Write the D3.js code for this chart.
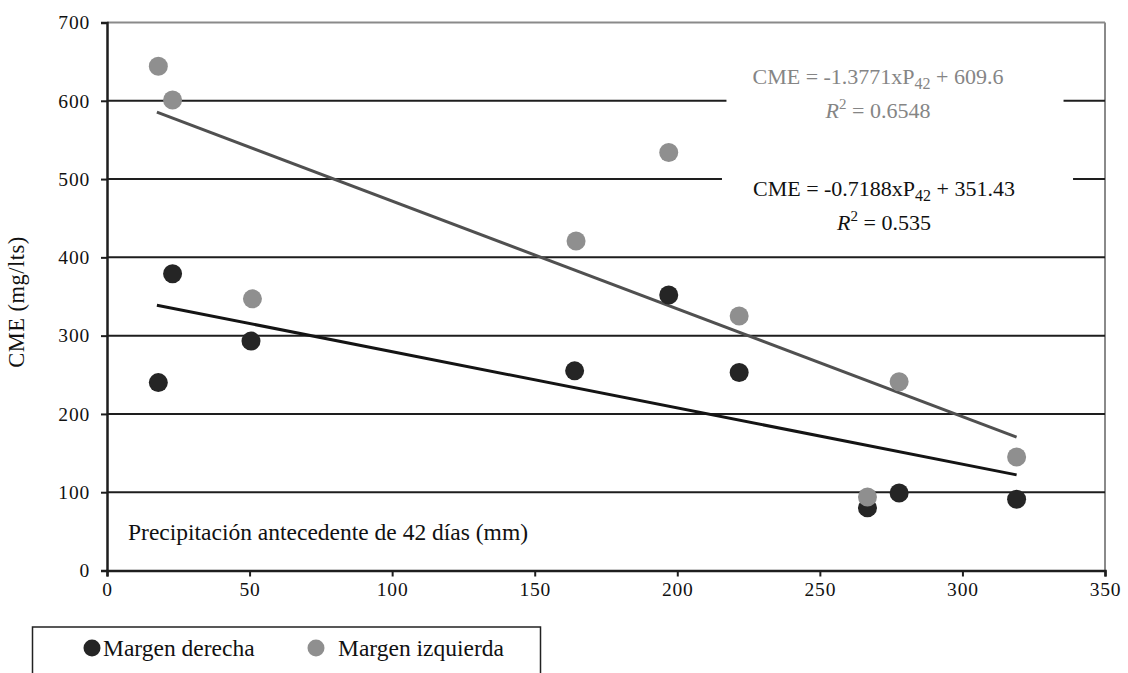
<!DOCTYPE html>
<html><head><meta charset="utf-8">
<script src="https://cdn.jsdelivr.net/npm/d3@7"></script>
<style>
html,body{margin:0;padding:0;background:#fff;}
svg{display:block;font-family:"Liberation Serif","Times New Roman",serif;}
</style></head>
<body>
<svg id="c" width="1128" height="673"></svg>
<script>
// ---- data ----
const seriesNames = ["Margen derecha", "Margen izquierda"];
const derechaX = [18, 23, 50.5, 164, 197, 221.7, 266.7, 277.8, 319];
const derechaY = [240, 379, 293, 255, 352, 253, 80, 99, 91];
const izquierdaX = [18, 23, 51, 164.5, 197, 221.7, 266.7, 277.8, 319];
const izquierdaY = [644, 601, 347, 421, 534, 325, 94, 241, 145];
const trendSlope = [-0.7188, -1.3771];
const trendIntercept = [351.43, 609.6];
const trendR2 = ["0.535", "0.6548"];
const trendRange = [17.5, 319];
const xTicks = [0, 50, 100, 150, 200, 250, 300, 350];
const yTicks = [0, 100, 200, 300, 400, 500, 600, 700];

const colors = ["#252525", "#8f8f8f"];
const lineColors = ["#141414", "#505050"];

const svg = d3.select("#c");
const x = d3.scaleLinear().domain([0, 350]).range([107, 1105]);
const y = d3.scaleLinear().domain([0, 700]).range([570.5, 22.5]);

// plot border (top/right)
svg.append("line").attr("x1", x(0)).attr("x2", x(350)).attr("y1", y(700)).attr("y2", y(700))
  .attr("stroke", "#8a8a8a").attr("stroke-width", 2);
svg.append("line").attr("x1", x(350)).attr("x2", x(350)).attr("y1", y(700)).attr("y2", y(0))
  .attr("stroke", "#8a8a8a").attr("stroke-width", 2);

// gridlines
svg.append("g").selectAll("line").data(yTicks.filter(d => d > 0 && d < 700)).join("line")
  .attr("x1", x(0)).attr("x2", x(350)).attr("y1", d => y(d)).attr("y2", d => y(d))
  .attr("stroke", "#1e1e1e").attr("stroke-width", 2);

// axes
const yAxis = svg.append("g").attr("transform", `translate(${x(0)},0)`)
  .call(d3.axisLeft(y).tickValues(yTicks).tickSize(6).tickPadding(11));
const xAxis = svg.append("g").attr("transform", `translate(0,${y(0)})`)
  .call(d3.axisBottom(x).tickValues(xTicks).tickSize(6).tickPadding(6));
[yAxis, xAxis].forEach(a => {
  a.select(".domain").attr("stroke", "#1e1e1e").attr("stroke-width", 2.5);
  a.selectAll(".tick line").attr("stroke", "#1e1e1e").attr("stroke-width", 2);
  a.selectAll(".tick text").attr("font-family", "Liberation Serif, serif").attr("font-size", 19.5)
    .attr("letter-spacing", 0.8).attr("fill", "#111");
});
xAxis.selectAll(".tick text").attr("dy", "0.71em");

// annotations (with white background)
function eqText(g, i, cx, y1, y2, col) {
  const t1 = g.append("text").attr("x", cx).attr("y", y1).attr("text-anchor", "middle")
    .attr("font-size", 22).attr("fill", col);
  t1.append("tspan").text(`CME = ${trendSlope[i]}xP`);
  t1.append("tspan").attr("font-size", 16).attr("dy", 5).text("42");
  t1.append("tspan").attr("dy", -5).text(` + ${trendIntercept[i]}`);
  const t2 = g.append("text").attr("x", cx).attr("y", y2).attr("text-anchor", "middle")
    .attr("font-size", 22).attr("fill", col);
  t2.append("tspan").attr("font-style", "italic").text("R");
  t2.append("tspan").attr("font-size", 15).attr("dy", -9).text("2");
  t2.append("tspan").attr("dy", 9).text(` = ${trendR2[i]}`);
  return [t1, t2];
}
const annG = svg.append("g");
const bgG = annG.append("g");
const a1 = eqText(annG, 1, 878, 84, 118, "#858585");
const a0 = eqText(annG, 0, 884, 196, 230, "#111");
[[a1, 26, 60], [a0, 31, 58]].forEach(([ts, pl, pr]) => {
  const b1 = ts[0].node().getBBox(), b2 = ts[1].node().getBBox();
  const x0 = Math.min(b1.x, b2.x) - pl, x1 = Math.max(b1.x + b1.width, b2.x + b2.width) + pr;
  bgG.append("rect").attr("x", x0).attr("y", b1.y - 4).attr("width", x1 - x0)
    .attr("height", b2.y + b2.height - b1.y + 8).attr("fill", "#fff");
});

// trend lines
[0, 1].forEach(i => {
  svg.append("line")
    .attr("x1", x(trendRange[0])).attr("y1", y(trendSlope[i] * trendRange[0] + trendIntercept[i]))
    .attr("x2", x(trendRange[1])).attr("y2", y(trendSlope[i] * trendRange[1] + trendIntercept[i]))
    .attr("stroke", lineColors[i]).attr("stroke-width", 3);
});

// points
const der = derechaX.map((v, i) => [v, derechaY[i]]);
const izq = izquierdaX.map((v, i) => [v, izquierdaY[i]]);
svg.append("g").selectAll("circle").data(der).join("circle")
  .attr("cx", d => x(d[0])).attr("cy", d => y(d[1])).attr("r", 9.5).attr("fill", colors[0]);
svg.append("g").selectAll("circle").data(izq).join("circle")
  .attr("cx", d => x(d[0])).attr("cy", d => y(d[1])).attr("r", 9.5).attr("fill", colors[1]);

// axis titles
svg.append("text").attr("transform", `translate(16,${y(343)}) rotate(-90)`)
  .attr("text-anchor", "middle").attr("dy", "0.35em").attr("font-size", 22.5)
  .attr("letter-spacing", 0.5).attr("fill", "#111")
  .text("CME (mg/lts)");
svg.append("text").attr("x", 128).attr("y", 540).attr("font-size", 23.5).attr("fill", "#111")
  .text("Precipitación antecedente de 42 días (mm)");

// legend
svg.append("rect").attr("x", 32.5).attr("y", 627).attr("width", 508).attr("height", 60)
  .attr("fill", "#fff").attr("stroke", "#222").attr("stroke-width", 1.5);
const legX = [92, 316];
seriesNames.forEach((n, i) => {
  svg.append("circle").attr("cx", legX[i]).attr("cy", 648).attr("r", 8.5).attr("fill", colors[i]);
  svg.append("text").attr("x", legX[i] + (i === 0 ? 11 : 22)).attr("y", 656).attr("font-size", 23.5)
    .attr("fill", "#111").text(n);
});
</script>
</body></html>
